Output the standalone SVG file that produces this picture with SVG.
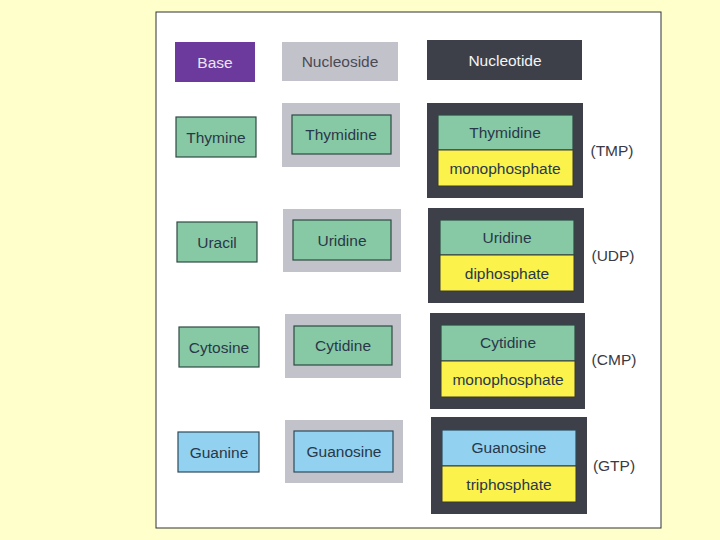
<svg xmlns="http://www.w3.org/2000/svg" width="720" height="540" viewBox="0 0 720 540">
<style>
text{font-family:"Liberation Sans",Arial,sans-serif;font-size:15.5px;text-anchor:middle;dominant-baseline:central;fill:#28384a}
.g{fill:#88c9a5;stroke:#2f4a44;stroke-width:1.2}
.b{fill:#92d1ef;stroke:#2f4a5a;stroke-width:1.2}
.y{fill:#fbf24c;stroke:#3a3a30;stroke-width:1}
.ns{fill:#c2c2ca}
.nt{fill:#3d4048}
.lab{fill:#3a3a44}
</style>
<rect x="0" y="0" width="720" height="540" fill="#ffffcc"/>
<rect x="156" y="12" width="505" height="516" fill="#ffffff" stroke="#333" stroke-width="1"/>
<g id="hdr-base"><rect x="175" y="42" width="80" height="40" fill="#6b3a9c"/><text x="215" y="62" style="fill:#ece4f4">Base</text></g>
<g id="hdr-nucleoside"><rect x="282" y="42" width="116" height="39" class="ns"/><text x="340" y="61" style="fill:#4a4a55">Nucleoside</text></g>
<g id="hdr-nucleotide"><rect x="427" y="40" width="155" height="40" class="nt"/><text x="505" y="60" style="fill:#f4f4f4">Nucleotide</text></g>

<g id="thymine"><rect x="176" y="117" width="80" height="40" class="g"/><text x="216" y="137">Thymine</text></g>
<g id="thymidine"><rect x="282" y="103" width="118" height="64" class="ns"/><rect x="292" y="115" width="99" height="39" class="g"/><text x="341" y="134">Thymidine</text></g>
<g id="tmp"><rect x="427" y="103" width="156" height="95" class="nt"/><rect x="438" y="115" width="135" height="35" class="g"/><rect x="438" y="150" width="135" height="36" class="y"/><text x="505" y="132">Thymidine</text><text x="505" y="168">monophosphate</text><text x="612" y="150" class="lab">(TMP)</text></g>

<g id="uracil"><rect x="177" y="222" width="80" height="40" class="g"/><text x="217" y="242">Uracil</text></g>
<g id="uridine"><rect x="283" y="209" width="118" height="63" class="ns"/><rect x="293" y="220" width="98" height="40" class="g"/><text x="342" y="240">Uridine</text></g>
<g id="udp"><rect x="428" y="208" width="156" height="95" class="nt"/><rect x="440" y="220" width="134" height="35" class="g"/><rect x="440" y="255" width="134" height="36" class="y"/><text x="507" y="237">Uridine</text><text x="507" y="273">diphosphate</text><text x="613" y="255" class="lab">(UDP)</text></g>

<g id="cytosine"><rect x="179" y="327" width="80" height="40" class="g"/><text x="219" y="347">Cytosine</text></g>
<g id="cytidine"><rect x="285" y="314" width="116" height="64" class="ns"/><rect x="294" y="326" width="98" height="39" class="g"/><text x="343" y="345">Cytidine</text></g>
<g id="cmp"><rect x="430" y="313" width="155" height="96" class="nt"/><rect x="441" y="325" width="134" height="36" class="g"/><rect x="441" y="361" width="134" height="36" class="y"/><text x="508" y="342">Cytidine</text><text x="508" y="379">monophosphate</text><text x="614" y="359" class="lab">(CMP)</text></g>

<g id="guanine"><rect x="178" y="432" width="81" height="40" class="b"/><text x="219" y="452">Guanine</text></g>
<g id="guanosine"><rect x="285" y="420" width="118" height="63" class="ns"/><rect x="294" y="431" width="99" height="41" class="b"/><text x="344" y="451">Guanosine</text></g>
<g id="gtp"><rect x="431" y="417" width="156" height="97" class="nt"/><rect x="442" y="430" width="134" height="36" class="b"/><rect x="442" y="466" width="134" height="36" class="y"/><text x="509" y="447">Guanosine</text><text x="509" y="484">triphosphate</text><text x="614" y="465" class="lab">(GTP)</text></g>
<g id="connectors"></g>
</svg>
